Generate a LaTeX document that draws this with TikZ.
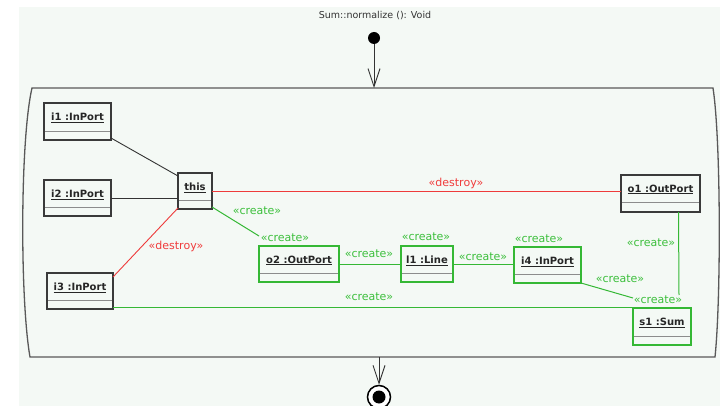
\documentclass[tikz,border=0pt]{standalone}
\usepackage{fontspec}
\setmainfont{DejaVu Sans}
\usetikzlibrary{arrows.meta,calc}

\definecolor{panel}{HTML}{F4F9F5}
\definecolor{umlgreen}{HTML}{35B835}
\definecolor{labgreen}{HTML}{3CBF3C}
\definecolor{umlred}{HTML}{EE3B3B}
\definecolor{labred}{HTML}{F03C3C}
\definecolor{boxgray}{HTML}{3A3A3A}
\definecolor{divgray}{HTML}{8C8C8C}

\tikzset{
  objbox/.style={draw, line width=1.4pt, inner sep=0pt, outer sep=0pt, fill=panel},
  objtext/.style={font=\fontsize{10}{12}\selectfont\bfseries, text=black!85, inner sep=0pt},
  divider/.style={draw=divgray, line width=0.8pt},
  assoc/.style={draw=black!80, line width=0.9pt},
  createline/.style={draw=umlgreen, line width=1pt},
  destroyline/.style={draw=umlred, line width=0.9pt},
  createlab/.style={font=\fontsize{11}{13}\selectfont, text=labgreen, inner sep=0pt},
  destroylab/.style={font=\fontsize{11}{13}\selectfont, text=labred, inner sep=0pt},
  flow/.style={draw=black!80, line width=0.9pt,
    -{Straight Barb[length=18pt,width=12pt,line width=0.9pt]}},
  framepath/.style={draw=black!65, line width=1.3pt},
}

% object box: name, x1, y1, x2, y2, divider y, label, colour
\newcommand\objnode[8]{%
  \node[objbox, draw=#8, minimum width={(#4-#2)*1pt}, minimum height={(#5-#3)*1pt}]
    (#1) at ({(#2+#4)/2},{(#3+#5)/2}) {};
  \draw[divider] ({#2+1},{#6}) -- ({#4-1},{#6});
  \node[objtext] (#1-name) at ({(#2+#4)/2},{(#3+#6)/2+1}) {\underline{#7}};
}

\begin{document}
\begin{tikzpicture}[x=1pt,y=-1pt]
  \useasboundingbox (0,0) rectangle (720,406);
  \fill[white] (0,0) rectangle (720,406);
  \fill[panel] (19,7) rectangle (720,406);

  % operation name and initial state
  \node[font=\fontsize{9.5}{11}\selectfont, text=black!80] (title) at (375,16) {Sum::normalize (): Void};
  \node[circle, fill=black, minimum size=12pt, inner sep=0pt] (start) at (374,38) {};

  % activity frame
  \draw[framepath] (32,88) -- (713,88)
    .. controls (721,140) and (721,300) .. (715,357)
    -- (30,357)
    .. controls (20,300) and (20,140) .. (32,88) -- cycle;
  \coordinate (frametop) at (374,88);
  \coordinate (framebot) at (379,357);

  % final state
  \node[circle, draw=black, line width=1.5pt, minimum size=23pt, inner sep=0pt, fill=white] (final) at (379,397) {};
  \node[circle, fill=black, minimum size=13pt, inner sep=0pt] (finaldot) at (final.center) {};

  \draw[flow] (start) -- (frametop);
  \draw[flow] (framebot) -- (final.north);

  % objects
  \objnode{i1}{44}{103}{111}{140}{131}{i1 :InPort}{boxgray}
  \objnode{i2}{44}{180}{111}{216}{207}{i2 :InPort}{boxgray}
  \objnode{this}{178}{173}{212}{209}{200}{this}{boxgray}
  \objnode{i3}{47}{273}{113}{309}{300}{i3 :InPort}{boxgray}
  \objnode{o1}{621}{175}{700}{212}{202}{o1 :OutPort}{boxgray}
  \objnode{o2}{259}{246}{339}{282}{273}{o2 :OutPort}{umlgreen}
  \objnode{l1}{401}{246}{453}{282}{273}{l1 :Line}{umlgreen}
  \objnode{i4}{514}{247}{581}{283}{274}{i4 :InPort}{umlgreen}
  \objnode{s1}{633}{308}{691}{345}{336}{s1 :Sum}{umlgreen}

  % links
  \draw[assoc] ([yshift=2pt]i1.south east) -- ([yshift=-3pt]this.north west);
  \draw[assoc] (i2.east) -- (i2.east -| this.west);
  \draw[destroyline] ([yshift=-4pt]i3.north east) -- ([yshift=1pt]this.south west);
  \draw[destroyline] (this.east) -- (this.east -| o1.west);
  \draw[createline] ([yshift=2pt]this.south east) -- ([yshift=10pt]o2.north west);
  \draw[createline] (o2.east) -- (o2.east -| l1.west);
  \draw[createline] (l1.east) -- (l1.east -| i4.west);
  \draw[createline] (i4.south east) -- ([yshift=10pt]s1.north west);
  \draw[createline] ([xshift=18pt]o1.south) -- ([xshift=17pt,yshift=13pt]s1.north);
  \draw[createline] ([yshift=2pt]i3.south east) -- ([yshift=2pt]i3.south east -| s1.west);

  % stereotypes
  \node[destroylab] (d1) at (176,246) {«destroy»};
  \node[destroylab] (d2) at (456,183) {«destroy»};
  \node[createlab] (c1) at (257,211) {«create»};
  \node[createlab] (c2) at (285,238) {«create»};
  \node[createlab] (c3) at (369,254) {«create»};
  \node[createlab] (c4) at (426,237) {«create»};
  \node[createlab] (c5) at (483,257) {«create»};
  \node[createlab] (c6) at (539,239) {«create»};
  \node[createlab] (c7) at (620,279) {«create»};
  \node[createlab] (c8) at (658,300) {«create»};
  \node[createlab] (c9) at (651,243) {«create»};
  \node[createlab] (c10) at (369,297) {«create»};
\end{tikzpicture}
\end{document}
